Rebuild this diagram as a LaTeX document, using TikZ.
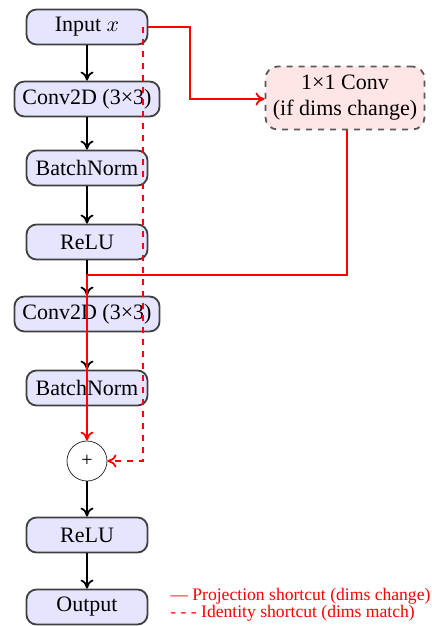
\documentclass[tikz,border=0pt]{standalone}
\usepackage{fontspec}
\setmainfont{Liberation Serif}
\usetikzlibrary{arrows.meta}
\begin{document}
\begin{tikzpicture}[x=0.5pt,y=-0.5pt,
  layer/.style={draw=black!75, fill=blue!10, rounded corners=5pt, line width=0.9pt,
    minimum width=60.5pt, minimum height=17.5pt, inner xsep=4pt,
    font=\fontsize{11}{13}\selectfont},
  proj/.style={draw=black!65, dashed, fill=red!10, rounded corners=6pt, line width=0.9pt,
    minimum width=79.5pt, minimum height=31.5pt, align=center,
    font=\fontsize{11}{13}\selectfont},
  addop/.style={circle, draw=black!80, fill=white, minimum size=20pt, inner sep=0pt},
  flow/.style={-{To[length=4.5pt,width=6.5pt]}, line width=0.9pt, black},
  shortcut/.style={-{To[length=4.5pt,width=6.5pt]}, line width=0.9pt, red},
  legend/.style={anchor=west, text=red, font=\fontsize{8.8}{10}\selectfont, inner sep=0pt}]
\useasboundingbox (0,0) rectangle (432,626);

% main path of the residual block
\node[layer] (in)  at (87,27)  {Input $x$};
\node[layer] (c1)  at (87,99)  {Conv2D (3×3)};
\node[layer] (b1)  at (87,168) {BatchNorm};
\node[layer] (r1)  at (87,242) {ReLU};
\node[layer] (c2)  at (87,314) {Conv2D (3×3)};
\node[layer] (b2)  at (87,388) {BatchNorm};
\node[addop] (add) at (87,461) {+};
\node[layer] (r2)  at (87,535) {ReLU};
\node[layer] (out) at (87,607) {Output};

% projection on the skip path
\node[proj] (pc) at (345,98) {1×1 Conv\\(if dims change)};

\draw[flow] (in) -- (c1);
\draw[flow] (c1) -- (b1);
\draw[flow] (b1) -- (r1);
\draw[flow] (r1) -- (c2);
\draw[flow] (c2) -- (b2);
\draw[flow] (add) -- (r2);
\draw[flow] (r2) -- (out);

% projection shortcut
\coordinate (pj1) at (190,27);
\coordinate (pj2) at (190,99);
\draw[shortcut] (in.east) -- (pj1) -- (pj2) -- (pc.west |- pj2);
\coordinate (pj3) at (347,275);
\coordinate (pj4) at (87,275);
\draw[shortcut] (pc.south -| pj3) -- (pj3) -- (pj4) -- (add.north);

% identity shortcut
\coordinate (id0) at (143,27);
\coordinate (id1) at (143,461);
\draw[shortcut, dashed] (id0) -- (id1) -- (add.east);

% legend
\node[legend] (l1) at (170,596) {— Projection shortcut (dims change)};
\node[legend] (l2) at (170,613) {- - - Identity shortcut (dims match)};
\end{tikzpicture}
\end{document}
